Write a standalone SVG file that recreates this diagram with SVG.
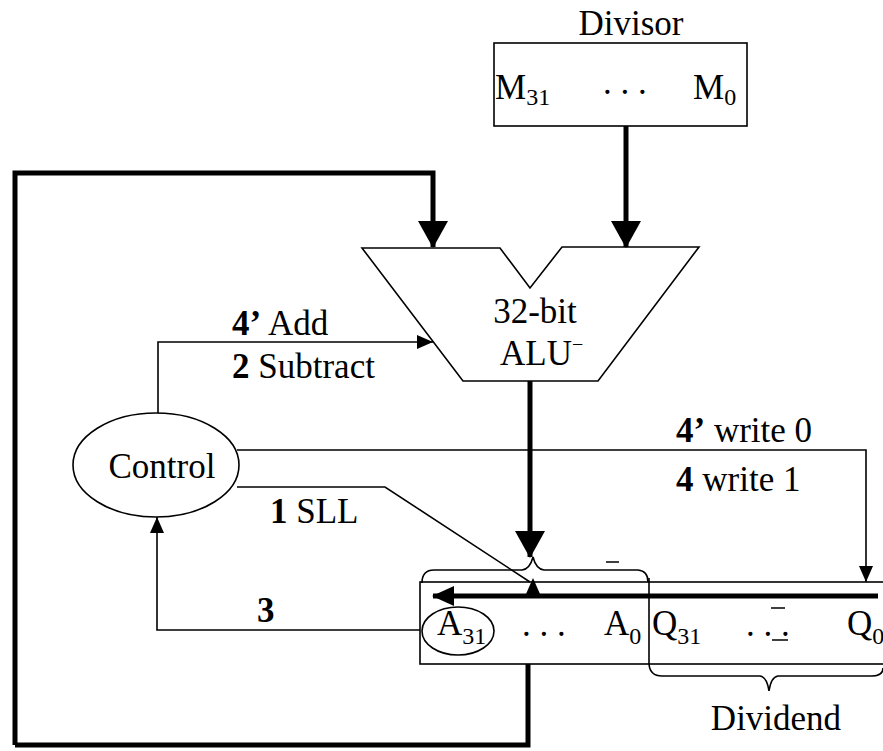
<svg xmlns="http://www.w3.org/2000/svg" width="883" height="751" viewBox="0 0 883 751">
<style>
text{font-family:"Liberation Serif","Times New Roman",serif;font-size:35px;fill:#000}
.b{font-weight:bold}
.sub{font-size:24px}
.thin{fill:none;stroke:#000;stroke-width:1.6}
.thick{fill:none;stroke:#000;stroke-width:5}
.shape{fill:#fff;stroke:#000;stroke-width:1.6}
</style>
<defs>
<marker id="big" markerUnits="userSpaceOnUse" markerWidth="28" markerHeight="30" refX="26" refY="15" orient="auto"><path d="M0,0 L27,15 L0,30 z" fill="#000"/></marker>
<marker id="sm" markerUnits="userSpaceOnUse" markerWidth="17" markerHeight="18" refX="16" refY="9" orient="auto"><path d="M0,2 L16,9 L0,16 z" fill="#000"/></marker>
<marker id="md" markerUnits="userSpaceOnUse" markerWidth="22" markerHeight="20" refX="21" refY="10" orient="auto"><path d="M0,0 L22,10 L0,20 z" fill="#000"/></marker>
</defs>
<rect width="883" height="751" fill="#fff"/>

<g id="divisor">
<text x="631" y="35" text-anchor="middle">Divisor</text>
<rect x="494" y="43" width="253" height="83" class="shape"/>
<text x="495" y="99">M<tspan class="sub" dy="6">31</tspan></text>
<text x="603" y="94">. . .</text>
<text x="693" y="99">M<tspan class="sub" dy="6">0</tspan></text>
</g>

<g id="alu">
<path d="M362,248 L500,248 L530,288 L562,247 L699,247 L598,381 L463,381 Z" class="shape"/>
<text x="535" y="323" text-anchor="middle">32-bit</text>
<text x="500" y="365">ALU<tspan font-size="20" dy="-14">−</tspan></text>
</g>

<g id="control">
<ellipse cx="156" cy="465" rx="83" ry="52" class="shape"/>
<text x="162" y="478" text-anchor="middle">Control</text>
</g>

<g id="register">
<rect x="420" y="582" width="470" height="82" class="shape"/>
<line x1="649" y1="578" x2="649" y2="664" class="thin" stroke-width="2"/>
<ellipse cx="458" cy="631" rx="36" ry="24" class="thin"/>
<text x="437" y="635">A<tspan class="sub" dy="9">31</tspan></text>
<text x="522" y="636">. . .</text>
<text x="604" y="635">A<tspan class="sub" dy="9">0</tspan></text>
<text x="652" y="635">Q<tspan class="sub" dy="9">31</tspan></text>
<text x="746" y="636">. . .</text>
<text x="847" y="635">Q<tspan class="sub" dy="9">0</tspan></text>
<path d="M606,562 H619 M771,608 H785 M772,640 H788" class="thin" stroke-width="2"/>
<path d="M422,583 Q422,570 434,570 H522 Q530,569 533,557 Q536,569 544,570 H638 Q648,571 648,582" class="thin"/>
<path d="M649,664 Q650,676 662,676 H760 Q767,677 769,691 Q771,677 778,676 H872 Q883,676 883,668" class="thin"/>
<text x="776" y="730" text-anchor="middle">Dividend</text>
</g>

<g id="connectors">
<path d="M15,745 V173 H433 V247" class="thick" marker-end="url(#big)"/>
<path d="M15,745 H528 V664" class="thick"/>
<path d="M626,126 V247" class="thick" marker-end="url(#big)"/>
<path d="M530,381 V557" class="thick" marker-end="url(#big)"/>
<path d="M878,596 H433" class="thick" stroke-width="4" marker-end="url(#md)"/>
<path d="M158,413 V342 H433" class="thin" marker-end="url(#sm)"/>
<path d="M237,450 H866 V582" class="thin" marker-end="url(#sm)"/>
<path d="M237,487 H385 L530,582" class="thin"/>
<path d="M526,594 L540,594 L533,578 Z" fill="#000"/>
<path d="M420,630 H157 V517" class="thin" marker-end="url(#sm)"/>
</g>

<g id="labels">
<text x="232" y="335"><tspan class="b">4’</tspan> Add</text>
<text x="232" y="378"><tspan class="b">2</tspan> Subtract</text>
<text x="676" y="442"><tspan class="b">4’</tspan> write 0</text>
<text x="676" y="491"><tspan class="b">4</tspan> write 1</text>
<text x="270" y="523"><tspan class="b">1</tspan> SLL</text>
<text x="257" y="622" class="b">3</text>
</g>
</svg>
